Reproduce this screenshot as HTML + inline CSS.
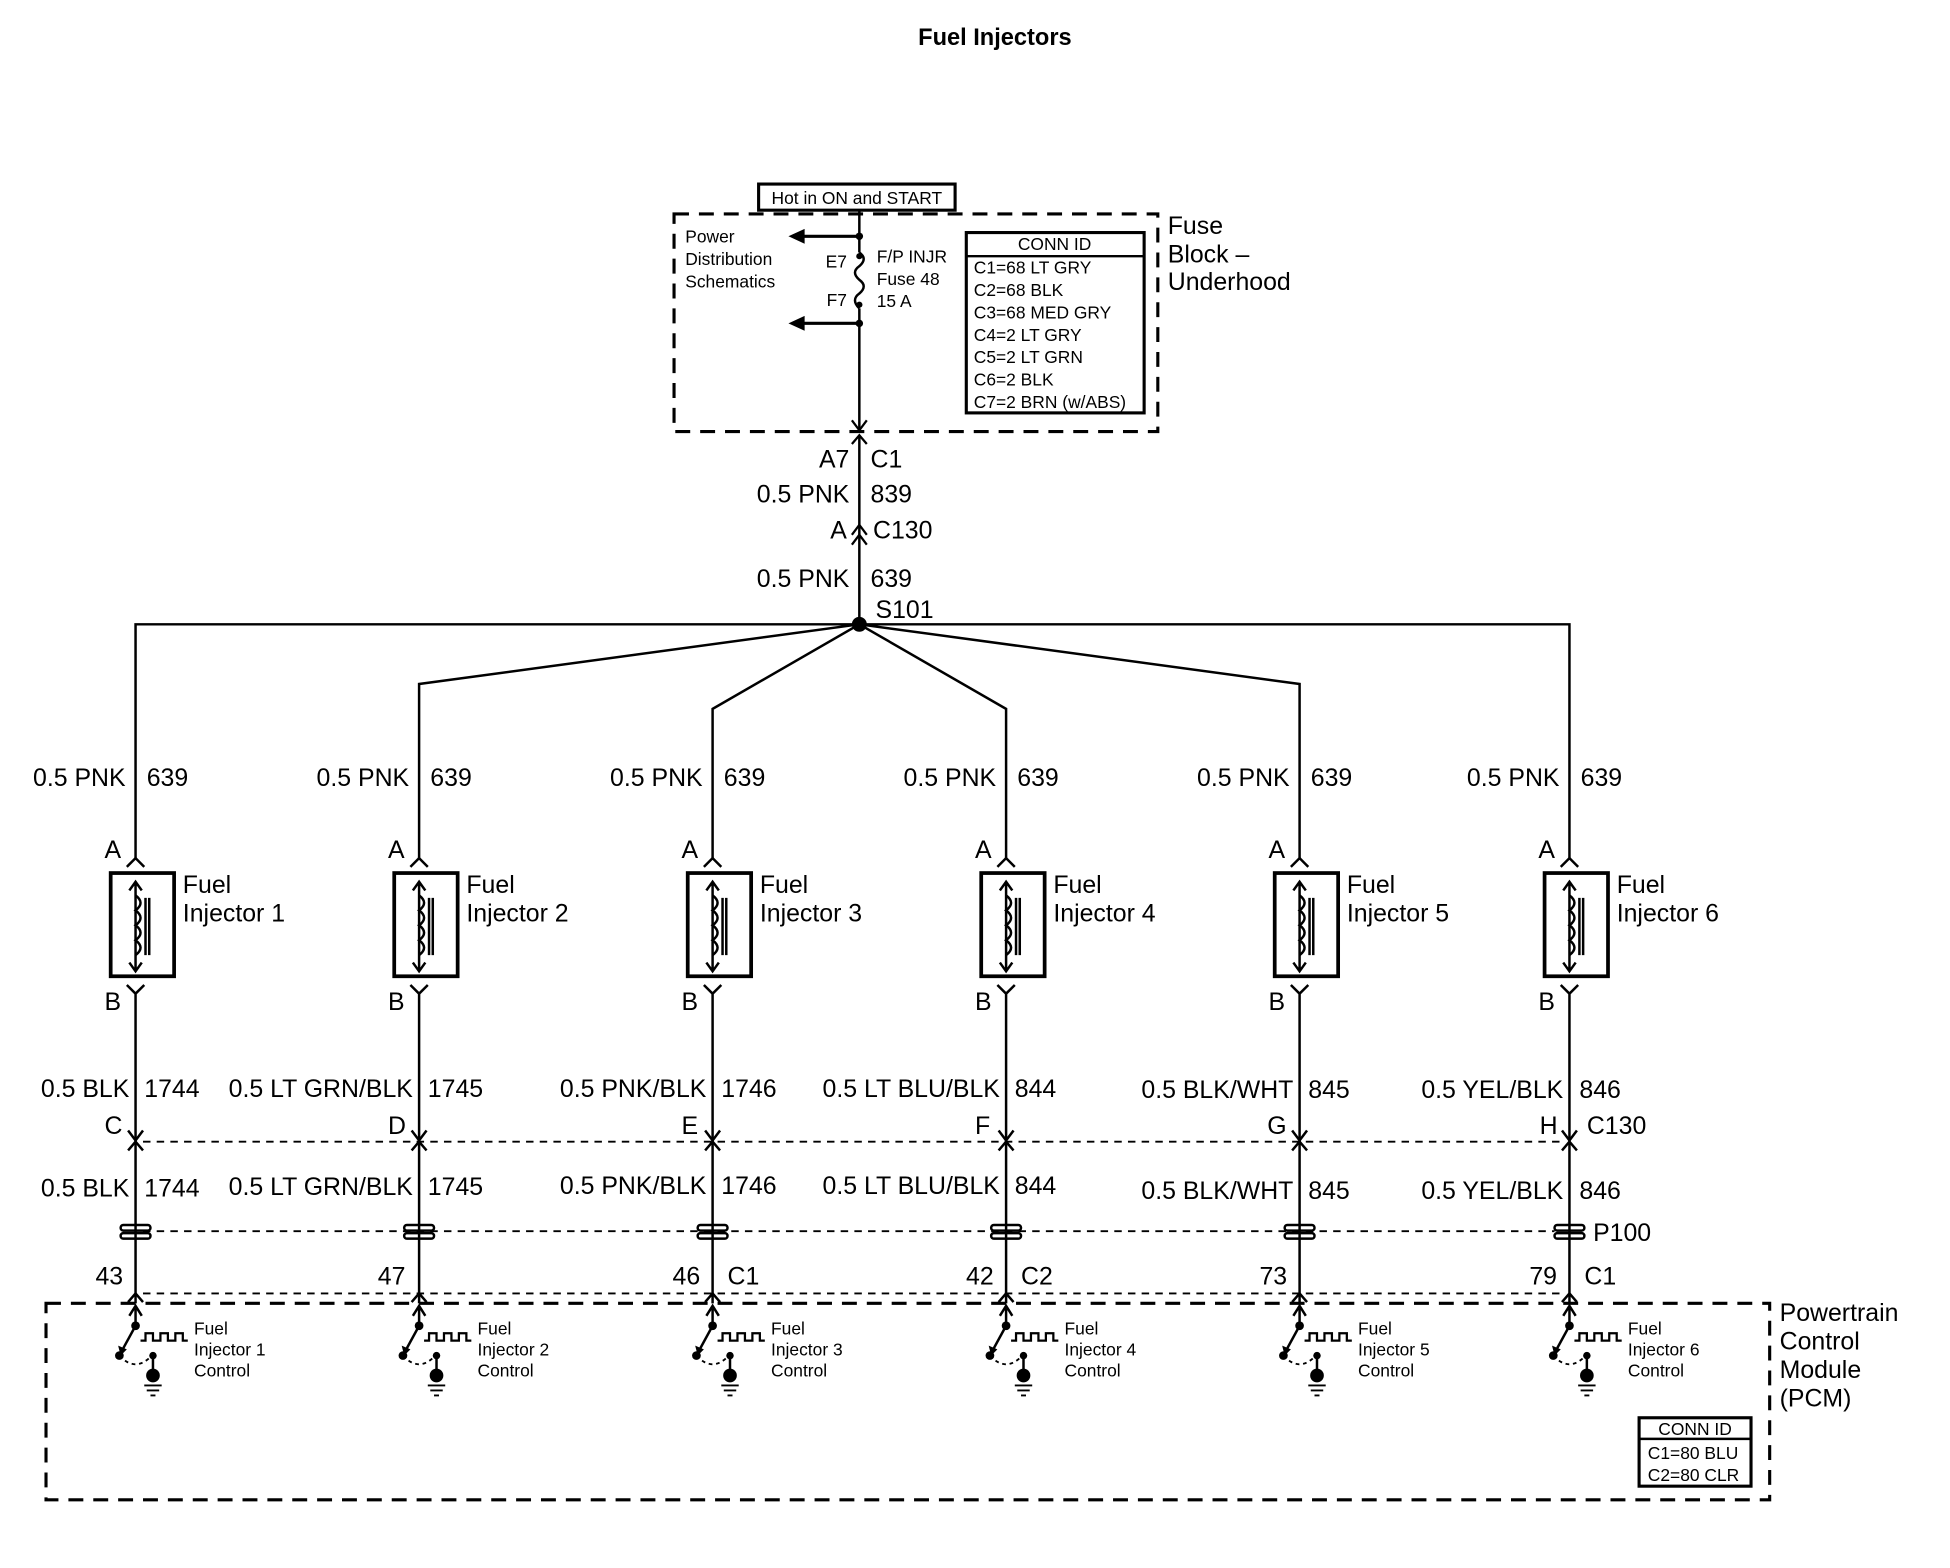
<!DOCTYPE html>
<html><head><meta charset="utf-8"><style>
html,body{margin:0;padding:0;background:#fff;}
svg{display:block;}
text{font-family:"Liberation Sans",Arial,sans-serif;fill:#000;}
.b{font-size:20px;}
.s{font-size:14px;}
.m{font-size:15px;}
.r{text-anchor:end;}
</style></head><body>
<svg width="1950" height="1568" viewBox="0 0 1568 1260.8" preserveAspectRatio="none" xmlns="http://www.w3.org/2000/svg">
<defs>
<g id="inj">
<g stroke="#000" stroke-width="2" fill="none">
<path d="M-7,697 L0,690 L7,697"/>
<rect x="-20" y="702" width="51" height="83" stroke-width="3"/>
<path d="M0,710 V780 M-5,716 L0,709 L5,716 M-5,774 L0,781 L5,774"/>
<path d="M0,720 q8,6 0,12 q8,6 0,12 q8,6 0,12 q8,6 0,12" />
<path d="M8,722 V768 M11,722 V768"/>
<path d="M-7,792 L0,799 L7,792 M0,799 V1048"/>
<path d="M-6,909 L0,917 L6,909 M-6,925 L0,918 L6,925"/>
<path d="M-6,1047 L0,1040 L6,1047"/>
<path d="M0,1068 V1052 M-5,1058 L0,1050 L5,1058"/>
<path d="M0,1066 L-12,1088"/>
<path d="M-13,1090 q13,14 26,0" stroke-dasharray="3,3" stroke-width="1.5"/>
<path d="M14,1090 V1108"/>
<path d="M4,1078 h4 v-6 h6 v6 h6 v-6 h6 v6 h6 v-6 h6 v6 h4" stroke-width="1.8"/>
<path d="M7,1114 h14 M9,1118 h10 M12,1122 h4" stroke-width="1.5"/>
</g>
<path d="M-14,1082 L-12,1090 L-7,1085 z" fill="#000"/>
<circle cx="0" cy="1066" r="3.5" fill="#000"/>
<circle cx="-13" cy="1090" r="3.5" fill="#000"/>
<circle cx="14" cy="1090" r="3" fill="#000"/>
<circle cx="14" cy="1106" r="5.5" fill="#000"/>
<rect x="-12" y="985" width="24" height="4.5" rx="2.2" fill="none" stroke="#000" stroke-width="2"/>
<rect x="-12" y="991.5" width="24" height="4.5" rx="2.2" fill="none" stroke="#000" stroke-width="2"/>
</g>
</defs>
<text x="800" y="36" text-anchor="middle" style="font-size:19px;font-weight:bold">Fuel Injectors</text>

<rect x="610" y="148" width="158" height="21" fill="none" stroke="#000" stroke-width="2.5"/>
<text x="689" y="164" text-anchor="middle" class="s">Hot in ON and START</text>
<rect x="542" y="172" width="389" height="175" fill="none" stroke="#000" stroke-width="2.5" stroke-dasharray="12,8"/>
<text x="939" y="188" class="b">Fuse</text>
<text x="939" y="211" class="b">Block –</text>
<text x="939" y="233" class="b">Underhood</text>
<text x="551" y="195" class="s">Power</text>
<text x="551" y="213" class="s">Distribution</text>
<text x="551" y="231" class="s">Schematics</text>
<path d="M691,169 V203 M691,248 V348" stroke="#000" stroke-width="2" fill="none"/>
<path d="M691,203 q7,5 0,11 q-7,5 0,11 q7,5 0,11 q-7,5 0,12" stroke="#000" stroke-width="2" fill="none"/>
<circle cx="691" cy="190" r="3" fill="#000"/><circle cx="691" cy="260" r="3" fill="#000"/>
<circle cx="691" cy="206" r="2.5" fill="#000"/><circle cx="691" cy="245" r="2.5" fill="#000"/>
<path d="M691,190 H645 M691,260 H645" stroke="#000" stroke-width="2.5"/>
<path d="M647,184 L634,190 L647,196 z M647,254 L634,260 L647,266 z" fill="#000"/>
<text x="681" y="215" class="s r">E7</text><text x="681" y="246" class="s r">F7</text>
<text x="705" y="211" class="s">F/P INJR</text><text x="705" y="229" class="s">Fuse 48</text><text x="705" y="247" class="s">15 A</text>
<rect x="777" y="187" width="143" height="145" fill="none" stroke="#000" stroke-width="2.5"/>
<line x1="777" y1="206" x2="920" y2="206" stroke="#000" stroke-width="2"/>
<text x="848" y="201" text-anchor="middle" class="s">CONN ID</text>
<text x="783" y="220" class="s">C1=68 LT GRY</text>
<text x="783" y="238" class="s">C2=68 BLK</text>
<text x="783" y="256" class="s">C3=68 MED GRY</text>
<text x="783" y="274" class="s">C4=2 LT GRY</text>
<text x="783" y="292" class="s">C5=2 LT GRN</text>
<text x="783" y="310" class="s">C6=2 BLK</text>
<text x="783" y="328" class="s">C7=2 BRN (w/ABS)</text>
<path d="M685,338 L691,346 L697,338 M685,357 L691,350 L697,357" stroke="#000" stroke-width="1.8" fill="none"/>
<line x1="691" y1="350" x2="691" y2="502" stroke="#000" stroke-width="2"/>
<path d="M685,430 L691,422 L697,430 M685,438 L691,430 L697,438" stroke="#000" stroke-width="1.8" fill="none"/>
<text x="683" y="376" class="b r">A7</text><text x="700" y="376" class="b">C1</text>
<text x="683" y="404" class="b r">0.5 PNK</text><text x="700" y="404" class="b">839</text>
<text x="681" y="433" class="b r">A</text><text x="702" y="433" class="b">C130</text>
<text x="683" y="472" class="b r">0.5 PNK</text><text x="700" y="472" class="b">639</text>
<text x="704" y="497" class="b">S101</text>
<circle cx="691" cy="502" r="6" fill="#000"/>
<path d="M109,690 V502 H1262 V690 M691,502 L337,550 V690 M691,502 L573,570 V690 M691,502 L809,570 V690 M691,502 L1045,550 V690" stroke="#000" stroke-width="2" fill="none"/>

<path d="M115,918 H1256 M115,990 H1250 M115,1040 H1256" stroke="#000" stroke-width="1.5" stroke-dasharray="6,5" fill="none"/>
<rect x="37" y="1048" width="1386" height="158" fill="none" stroke="#000" stroke-width="2.5" stroke-dasharray="12,8"/>
<text x="1431" y="1062" class="b">Powertrain</text>
<text x="1431" y="1085" class="b">Control</text>
<text x="1431" y="1108" class="b">Module</text>
<text x="1431" y="1131" class="b">(PCM)</text>
<rect x="1318" y="1140" width="90" height="55" fill="none" stroke="#000" stroke-width="2.5"/>
<line x1="1318" y1="1157" x2="1408" y2="1157" stroke="#000" stroke-width="2"/>
<text x="1363" y="1154" text-anchor="middle" class="s">CONN ID</text>
<text x="1325" y="1173" class="s">C1=80 BLU</text>
<text x="1325" y="1191" class="s">C2=80 CLR</text>

<use href="#inj" transform="translate(109,0)"/>
<use href="#inj" transform="translate(337,0)"/>
<use href="#inj" transform="translate(573,0)"/>
<use href="#inj" transform="translate(809,0)"/>
<use href="#inj" transform="translate(1045,0)"/>
<use href="#inj" transform="translate(1262,0)"/>
<text x="1281" y="998" class="b">P100</text>

<text x="101" y="632" class="b r">0.5 PNK</text><text x="118" y="632" class="b">639</text>
<text x="329" y="632" class="b r">0.5 PNK</text><text x="346" y="632" class="b">639</text>
<text x="565" y="632" class="b r">0.5 PNK</text><text x="582" y="632" class="b">639</text>
<text x="801" y="632" class="b r">0.5 PNK</text><text x="818" y="632" class="b">639</text>
<text x="1037" y="632" class="b r">0.5 PNK</text><text x="1054" y="632" class="b">639</text>
<text x="1254" y="632" class="b r">0.5 PNK</text><text x="1271" y="632" class="b">639</text>
<text x="84" y="690" class="b">A</text><text x="312" y="690" class="b">A</text><text x="548" y="690" class="b">A</text><text x="784" y="690" class="b">A</text><text x="1020" y="690" class="b">A</text><text x="1237" y="690" class="b">A</text>
<text x="84" y="812" class="b">B</text><text x="312" y="812" class="b">B</text><text x="548" y="812" class="b">B</text><text x="784" y="812" class="b">B</text><text x="1020" y="812" class="b">B</text><text x="1237" y="812" class="b">B</text>
<text x="147" y="718" class="b">Fuel</text><text x="147" y="741" class="b">Injector 1</text>
<text x="375" y="718" class="b">Fuel</text><text x="375" y="741" class="b">Injector 2</text>
<text x="611" y="718" class="b">Fuel</text><text x="611" y="741" class="b">Injector 3</text>
<text x="847" y="718" class="b">Fuel</text><text x="847" y="741" class="b">Injector 4</text>
<text x="1083" y="718" class="b">Fuel</text><text x="1083" y="741" class="b">Injector 5</text>
<text x="1300" y="718" class="b">Fuel</text><text x="1300" y="741" class="b">Injector 6</text>

<text x="104" y="882" class="b r">0.5 BLK</text><text x="116" y="882" class="b">1744</text>
<text x="332" y="882" class="b r">0.5 LT GRN/BLK</text><text x="344" y="882" class="b">1745</text>
<text x="568" y="882" class="b r">0.5 PNK/BLK</text><text x="580" y="882" class="b">1746</text>
<text x="804" y="882" class="b r">0.5 LT BLU/BLK</text><text x="816" y="882" class="b">844</text>
<text x="1040" y="883" class="b r">0.5 BLK/WHT</text><text x="1052" y="883" class="b">845</text>
<text x="1257" y="883" class="b r">0.5 YEL/BLK</text><text x="1270" y="883" class="b">846</text>

<text x="84" y="912" class="b">C</text><text x="312" y="912" class="b">D</text><text x="548" y="912" class="b">E</text><text x="784" y="912" class="b">F</text><text x="1019" y="912" class="b">G</text><text x="1238" y="912" class="b">H</text>
<text x="1276" y="912" class="b">C130</text>

<text x="104" y="962" class="b r">0.5 BLK</text><text x="116" y="962" class="b">1744</text>
<text x="332" y="961" class="b r">0.5 LT GRN/BLK</text><text x="344" y="961" class="b">1745</text>
<text x="568" y="960" class="b r">0.5 PNK/BLK</text><text x="580" y="960" class="b">1746</text>
<text x="804" y="960" class="b r">0.5 LT BLU/BLK</text><text x="816" y="960" class="b">844</text>
<text x="1040" y="964" class="b r">0.5 BLK/WHT</text><text x="1052" y="964" class="b">845</text>
<text x="1257" y="964" class="b r">0.5 YEL/BLK</text><text x="1270" y="964" class="b">846</text>

<text x="99" y="1033" class="b r">43</text>
<text x="326" y="1033" class="b r">47</text>
<text x="563" y="1033" class="b r">46</text><text x="585" y="1033" class="b">C1</text>
<text x="799" y="1033" class="b r">42</text><text x="821" y="1033" class="b">C2</text>
<text x="1035" y="1033" class="b r">73</text>
<text x="1252" y="1033" class="b r">79</text><text x="1274" y="1033" class="b">C1</text>

<text x="156" y="1073" class="s">Fuel</text><text x="156" y="1090" class="s">Injector 1</text><text x="156" y="1107" class="s">Control</text>
<text x="384" y="1073" class="s">Fuel</text><text x="384" y="1090" class="s">Injector 2</text><text x="384" y="1107" class="s">Control</text>
<text x="620" y="1073" class="s">Fuel</text><text x="620" y="1090" class="s">Injector 3</text><text x="620" y="1107" class="s">Control</text>
<text x="856" y="1073" class="s">Fuel</text><text x="856" y="1090" class="s">Injector 4</text><text x="856" y="1107" class="s">Control</text>
<text x="1092" y="1073" class="s">Fuel</text><text x="1092" y="1090" class="s">Injector 5</text><text x="1092" y="1107" class="s">Control</text>
<text x="1309" y="1073" class="s">Fuel</text><text x="1309" y="1090" class="s">Injector 6</text><text x="1309" y="1107" class="s">Control</text>
</svg>
</body></html>
